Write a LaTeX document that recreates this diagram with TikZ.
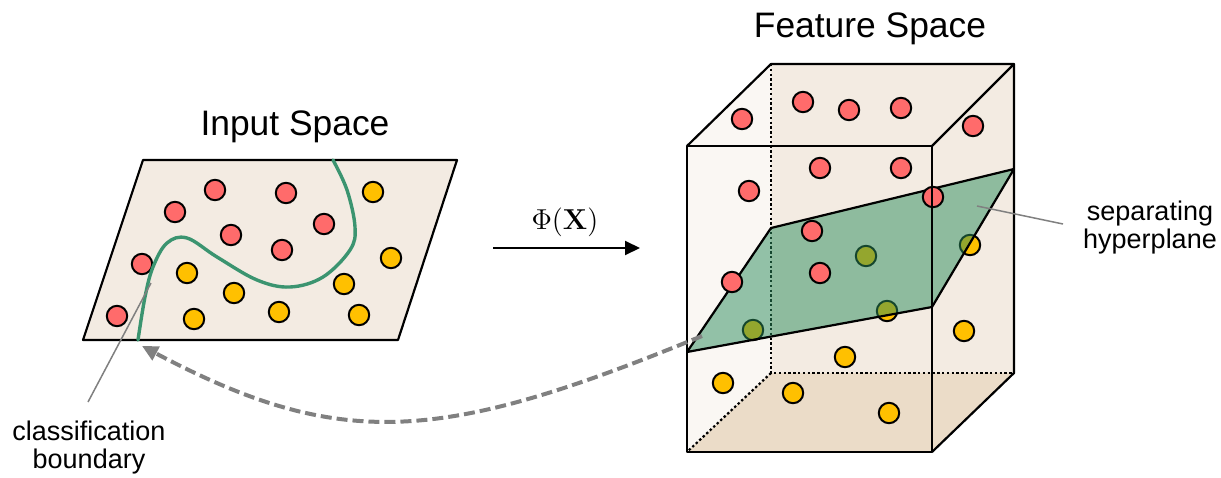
\documentclass[tikz,border=0pt]{standalone}
\usepackage[no-math]{fontspec}
\setmainfont{Liberation Sans}
\usetikzlibrary{arrows.meta}

\definecolor{paper}{HTML}{F3EBE2}
\definecolor{sideface}{HTML}{FAF7F3}
\definecolor{floorface}{HTML}{EBDCC8}
\definecolor{redpt}{HTML}{FF6B6B}
\definecolor{yellowpt}{HTML}{FFC000}
\definecolor{boundgreen}{HTML}{3B9470}
\definecolor{planegreen}{HTML}{2B8D5C}
\definecolor{leadgray}{HTML}{808080}

\tikzset{
  dotpt/.style={circle, draw=black, line width=1pt, minimum size=10.2pt, inner sep=0pt},
  rdot/.style={dotpt, fill=redpt},
  ydot/.style={dotpt, fill=yellowpt},
  edge/.style={line width=1.1pt, line join=round},
  hidden/.style={line width=1.1pt, dash pattern=on 1.2pt off 1.2pt},
  leader/.style={draw=leadgray, line width=0.75pt},
  title/.style={font=\fontsize{17.7}{21}\selectfont, inner sep=0pt},
  note/.style={font=\fontsize{13.5}{15}\selectfont, align=center, inner sep=0pt},
  maparrow/.style={line width=1pt, -{Triangle[length=7.5pt,width=7pt]}},
  backarrow/.style={draw=leadgray, line width=2pt, dash pattern=on 5.5pt off 2.5pt,
                    -{Triangle[length=8pt,width=7.5pt]}}
}

\begin{document}
\begin{tikzpicture}[x=0.5pt,y=-0.5pt]
\useasboundingbox (0,0) rectangle (1221,477);

% ---------------- input space ----------------
\node[title, anchor=base] (intitle) at (295,135) {Input Space};
\draw[edge, fill=paper] (143,160) -- (457,160) -- (398,340) -- (83,340) -- cycle;

\foreach \x/\y [count=\i] in {215/190, 286/193, 175/212, 231/235, 324/224, 282/250, 142/264, 117/316}
  \node[rdot] (in-r\i) at (\x,\y) {};
\foreach \x/\y [count=\i] in {373/192, 391/258, 187/273, 234/293, 344/284, 279/312, 194/319, 359/315}
  \node[ydot] (in-y\i) at (\x,\y) {};

% classification boundary
\draw[boundgreen, line width=1.7pt, line cap=round]
  plot[smooth, tension=0.6] coordinates {(333,160) (347,190) (355,227) (350,250) (323,277)
    (290,287) (257,280) (217,257) (187,238) (167,243) (153,267) (145,297) (138,340)};

% ---------------- mapping arrow ----------------
\coordinate (mapL) at (493,248);
\coordinate (mapR) at (640,248);
\draw[maparrow] (mapL) -- (mapR);
\node[inner sep=0pt, anchor=base, font=\fontsize{15.5}{18}\selectfont] (phi) at (565,229) {$\Phi(\mathbf{X})$};

% ---------------- feature space box ----------------
\node[title, anchor=base] (fttitle) at (870,37) {Feature Space};

\coordinate (FTL) at (687,146);  \coordinate (FTR) at (932,146);
\coordinate (FBL) at (687,452);  \coordinate (FBR) at (932,452);
\coordinate (BTL) at (771,64);   \coordinate (BTR) at (1014,64);
\coordinate (BBL) at (771,373);  \coordinate (BBR) at (1014,373);

% faces
\fill[sideface] (FTL) -- (BTL) -- (BBL) -- (FBL) -- cycle;
\fill[paper] (BTL) -- (BTR) -- (BBR) -- (BBL) -- cycle;
\fill[paper] (FTR) -- (BTR) -- (BBR) -- (FBR) -- cycle;
\fill[floorface] (FBL) -- (BBL) -- (BBR) -- (FBR) -- cycle;

% hidden edges
\draw[hidden] (BTL) -- (BBL) -- (BBR);
\draw[hidden] (BBL) -- (FBL);

% points above the plane
\foreach \x/\y [count=\i] in {742/119, 803/102, 849/110, 901/108, 973/126, 820/168, 901/168, 749/191}
  \node[rdot] (ft-r\i) at (\x,\y) {};
% points below the plane
\foreach \x/\y [count=\i] in {866/256, 887/311, 753/330, 970/245, 964/331, 845/357, 723/383, 793/393, 889/413}
  \node[ydot] (ft-y\i) at (\x,\y) {};

% separating hyperplane
\coordinate (PA) at (771,228);
\coordinate (PB) at (1014,169);
\coordinate (PC) at (932,307);
\coordinate (PD) at (687,352);
\fill[planegreen, fill opacity=0.5] (PA) -- (PB) -- (PC) -- (PD) -- cycle;
\draw[edge] (PA) -- (PB) -- (PC) -- (PD) -- cycle;

% points lying on the plane
\foreach \x/\y [count=\i] in {933/197, 812/231, 820/273, 732/282}
  \node[rdot] (pl-r\i) at (\x,\y) {};

% visible edges
\draw[edge] (FTL) -- (FTR) -- (FBR) -- (FBL) -- cycle;
\draw[edge] (FTL) -- (BTL) -- (BTR) -- (FTR);
\draw[edge] (BTR) -- (BBR) -- (FBR);

% ---------------- labels and leaders ----------------
\node[note] (seplabel) at (1150,228) {separating\\[-1pt]hyperplane};
\coordinate (sepL) at (977,206);
\coordinate (sepR) at (1063,224);
\draw[leader] (sepL) -- (sepR);

\node[note] (cblabel) at (89,448) {classification\\[-1pt]boundary};
\coordinate (cbTop) at (151,283);
\coordinate (cbBot) at (88,402);
\draw[leader] (cbTop) -- (cbBot);

% ---------------- back-projection arrow ----------------
\coordinate (planeEnd) at (702,336);
\coordinate (boundEnd) at (142,346);
\draw[backarrow] (planeEnd) .. controls (442,442.6) and (342,452) .. (boundEnd);

\end{tikzpicture}
\end{document}
